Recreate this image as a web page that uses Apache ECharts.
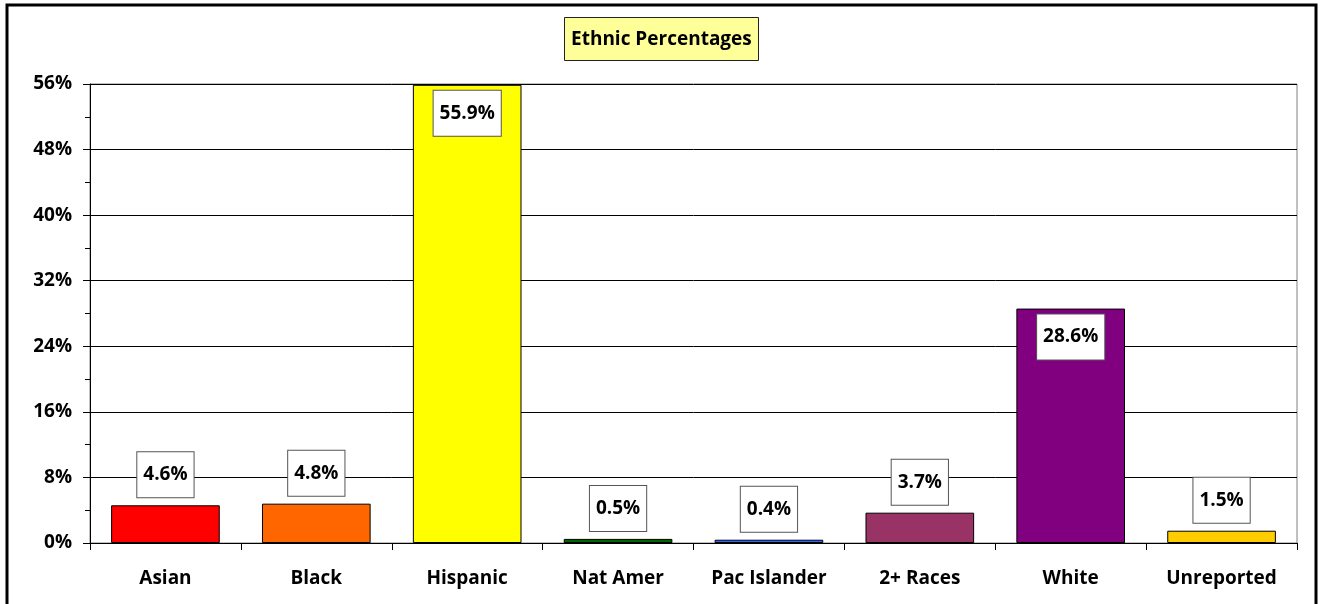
<!DOCTYPE html>
<html>
<head>
<meta charset="utf-8">
<script src="https://cdn.jsdelivr.net/npm/echarts@6/dist/echarts.min.js"></script>
<style>
html,body{margin:0;padding:0;background:#fff;}
#chart{width:1321px;height:604px;}
</style>
</head>
<body>
<div id="chart"></div>
<script>
const categories = ['Asian','Black','Hispanic','Nat Amer','Pac Islander','2+ Races','White','Unreported'];
const values = [4.6, 4.8, 55.9, 0.5, 0.4, 3.7, 28.6, 1.5];
const barColors = ['#FF0000','#FF6600','#FFFF00','#006600','#3366FF','#993366','#800080','#FFCC00'];
const insideLabelCats = ['Hispanic','White'];
const titleText = 'Ethnic Percentages';

const FONT = '"Open Sans", "Liberation Sans", sans-serif';
const FS = 19;
const chart = echarts.init(document.getElementById('chart'), null, {renderer:'canvas'});

const data = values.map((v, i) => {
  const inside = insideLabelCats.includes(categories[i]);
  return {
    value: v,
    itemStyle: { color: barColors[i] },
    label: { position: inside ? 'insideTop' : 'top', distance: inside ? 6 : 8 }
  };
});

chart.setOption({
  animation: false,
  backgroundColor: '#fff',
  title: {
    text: titleText,
    left: 564, top: 17,
    backgroundColor: '#FFFF99',
    borderColor: '#222', borderWidth: 1,
    padding: [11, 7, 10, 7],
    textStyle: { fontFamily: FONT, fontWeight: 'bold', fontSize: FS, color: '#000', lineHeight: 23 }
  },
  graphic: [{
    type: 'rect',
    shape: { x: 7, y: 5, width: 1309, height: 640 },
    style: { fill: 'none', stroke: '#000', lineWidth: 3 },
    silent: true, z: 100
  }],
  grid: {
    left: 90, right: 24, top: 84, bottom: 61,
    show: true, borderColor: '#808080', borderWidth: 1, backgroundColor: 'transparent'
  },
  xAxis: {
    type: 'category',
    data: categories,
    axisLine: { lineStyle: { color: '#000', width: 1 } },
    axisTick: { show: true, length: 7, lineStyle: { color: '#000' } },
    axisLabel: { fontFamily: FONT, fontWeight: 'bold', fontSize: FS, color: '#000', margin: 26, interval: 0 }
  },
  yAxis: {
    type: 'value',
    min: 0, max: 56, interval: 8,
    axisLine: { show: true, lineStyle: { color: '#000', width: 1 } },
    axisTick: { show: true, length: 7, lineStyle: { color: '#000' } },
    minorTick: { show: true, splitNumber: 2, length: 5, lineStyle: { color: '#000' } },
    splitLine: { show: true, lineStyle: { color: '#000', width: 1 } },
    axisLabel: { fontFamily: FONT, fontWeight: 'bold', fontSize: FS, color: '#000', margin: 18,
      formatter: v => v + '%' }
  },
  series: [{
    type: 'bar',
    data: data,
    barCategoryGap: '28%',
    itemStyle: { borderColor: '#000', borderWidth: 1 },
    label: {
      show: true,
      formatter: p => p.value.toFixed(1) + '%',
      fontFamily: FONT, fontWeight: 'bold', fontSize: FS, color: '#000', lineHeight: 23,
      backgroundColor: '#fff', borderColor: '#555', borderWidth: 1,
      padding: [11, 6, 11, 6]
    }
  }]
});
</script>
</body>
</html>
